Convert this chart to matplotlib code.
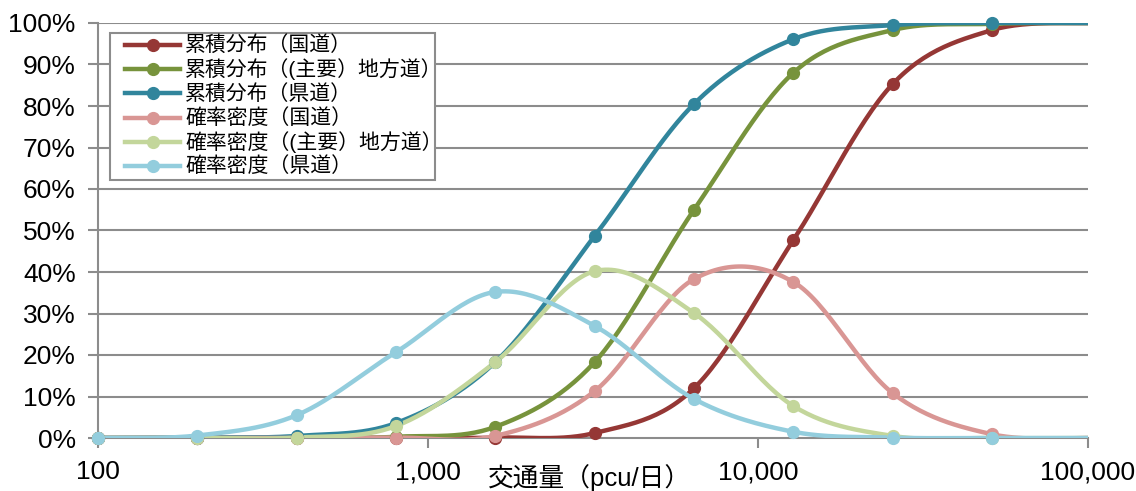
import numpy as np
import matplotlib
matplotlib.use("Agg")
import matplotlib.pyplot as plt
from matplotlib.lines import Line2D
from matplotlib.patches import Rectangle
from matplotlib.ticker import FixedLocator, FuncFormatter

plt.rcParams['font.family'] = ['Liberation Sans', 'Noto Sans CJK JP', 'DejaVu Sans']

# --- データ ---
traffic = [100, 200, 400, 800, 1600, 3200, 6400, 12800, 25600, 51200, 102400]

cum_national = [0, 0, 0, 0, 0.1, 1.2, 12.0, 47.7, 85.3, 98.3, 100]
cum_main_local = [0, 0, 0, 0.3, 2.7, 18.3, 55.0, 88.0, 98.3, 99.8, 100]
cum_prefectural = [0, 0.1, 0.5, 3.6, 18.3, 48.7, 80.5, 96.1, 99.5, 100, 100]
pdf_national = [0, 0, 0, 0.1, 0.5, 11.3, 38.3, 37.6, 10.8, 0.9, 0]
pdf_main_local = [0, 0, 0.1, 2.9, 18.3, 40.2, 30.1, 7.7, 0.5, 0, 0]
pdf_prefectural = [0, 0.6, 5.5, 20.7, 35.2, 27.0, 9.4, 1.5, 0.1, 0, 0]

labels = ["累積分布（国道）", "累積分布（(主要）地方道）", "累積分布（県道）",
          "確率密度（国道）", "確率密度（(主要）地方道）", "確率密度（県道）"]
colors = ["#953735", "#77933C", "#31859C", "#D99694", "#C3D69B", "#93CDDD"]
series = [cum_national, cum_main_local, cum_prefectural,
          pdf_national, pdf_main_local, pdf_prefectural]

W, H = 1136, 491


def smooth(xs, ys, n=30):
    # Excel風のスムージング (Catmull-Rom, 画面座標で計算)
    u = np.log10(xs) * 330.0
    v = np.asarray(ys, float) * 4.15
    pts = np.column_stack([u, v])
    pts = np.vstack([pts[0], pts, pts[-1]])
    out = []
    t = np.linspace(0, 1, n)[:, None]
    for i in range(1, len(pts) - 2):
        p0, p1, p2, p3 = pts[i - 1], pts[i], pts[i + 1], pts[i + 2]
        c1 = p1 + (p2 - p0) / 6.0
        c2 = p2 - (p3 - p1) / 6.0
        seg = ((1 - t) ** 3) * p1 + 3 * ((1 - t) ** 2) * t * c1 + 3 * (1 - t) * t ** 2 * c2 + t ** 3 * p2
        out.append(seg if i == 1 else seg[1:])
    out = np.vstack(out)
    return 10 ** (out[:, 0] / 330.0), out[:, 1] / 4.15


def fx(px):
    return px / W


def fy(py):
    return 1 - py / H


fig = plt.figure(figsize=(W / 100, H / 100), dpi=100)
ax = fig.add_axes([fx(98), fy(438), 990 / W, 415 / H])
ax.set_xscale('log')
ax.set_xlim(100, 100000)
ax.set_ylim(0, 100)

grid_c = '#8C8C8C'
for yv in range(10, 101, 10):
    ax.axhline(yv, color=grid_c, lw=1.5, zorder=1)

x = np.array(traffic, float)
for ys, c in zip(series, colors):
    sx, sy = smooth(x, ys)
    ax.plot(sx, sy, color=c, lw=3.2, solid_capstyle='round', zorder=3)
    vis = x <= 100000
    ax.plot(x[vis], np.asarray(ys)[vis], 'o', color=c, ms=8.5, zorder=4, clip_on=False)

for s in ['top', 'right']:
    ax.spines[s].set_visible(False)
for s in ['left', 'bottom']:
    ax.spines[s].set_color(grid_c)
    ax.spines[s].set_linewidth(1.5)

ax.xaxis.set_major_locator(FixedLocator([100, 1000, 10000, 100000]))
ax.xaxis.set_minor_locator(FixedLocator([]))
ax.xaxis.set_major_formatter(FuncFormatter(lambda v, p: f"{int(round(v)):,}"))
ax.yaxis.set_major_locator(FixedLocator(range(0, 101, 10)))
ax.yaxis.set_major_formatter(FuncFormatter(lambda v, p: f"{int(v)}%"))
ax.tick_params(axis='x', length=7, width=1.5, color=grid_c, pad=9, labelsize=19)
ax.tick_params(axis='y', length=7, width=1.5, color=grid_c, pad=9, labelsize=19)

fig.text(fx(590), fy(478), "交通量（pcu/日）", fontsize=18.5, ha='center', va='center')

# --- 凡例 (Excel風に手で配置) ---
fig.patches.append(Rectangle((fx(110), fy(180)), 325 / W, 147 / H, transform=fig.transFigure,
                             facecolor='white', edgecolor=grid_c, lw=1.5, zorder=5))
for i, (lab, c) in enumerate(zip(labels, colors)):
    ry = 45 + 24.2 * i
    fig.add_artist(Line2D([fx(125), fx(180)], [fy(ry), fy(ry)], color=c, lw=3.2,
                          transform=fig.transFigure, zorder=6))
    fig.add_artist(Line2D([fx(152.5)], [fy(ry)], color=c, marker='o', ms=8.5,
                          transform=fig.transFigure, zorder=6))
    fig.text(fx(185), fy(ry), lab, fontsize=15, ha='left', va='center', zorder=7)

fig.savefig("out.png", dpi=100)
